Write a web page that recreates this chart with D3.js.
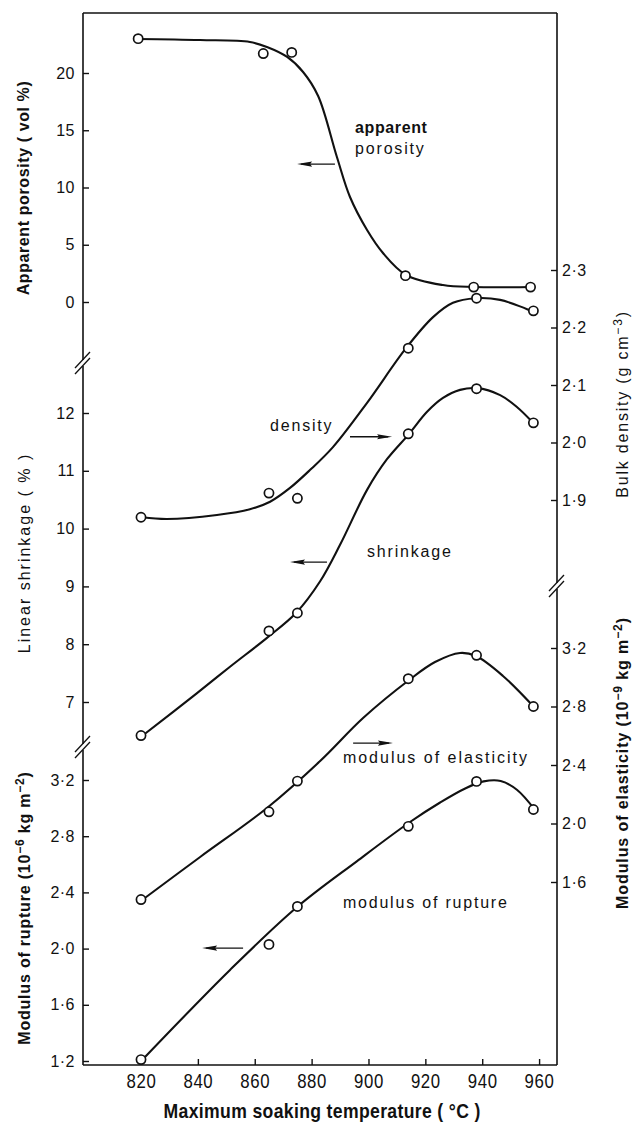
<!DOCTYPE html>
<html>
<head>
<meta charset="utf-8">
<script src="https://cdn.jsdelivr.net/npm/d3@7"></script>
<style>
  body { margin: 0; background: #fff; }
  text { fill: #111; }
</style>
</head>
<body>
<div id="chart"></div>
<script>
// ---- data ----
// measured points
const temps = [820, 865, 875, 914, 938, 958];
const porosityTemps = [819, 863, 873, 913, 937, 957];
const porosity = [23.0, 21.7, 21.8, 2.3, 1.3, 1.3];
const density = [1.870, 1.912, 1.903, 2.164, 2.251, 2.229];
const shrinkage = [6.42, 8.23, 8.54, 11.64, 12.42, 11.83];
const elasticity = [1.48, 2.08, 2.29, 2.99, 3.15, 2.80];
const rupture = [1.21, 2.03, 2.30, 2.87, 3.19, 2.99];

// hand-drawn fitted curves
const porosityFitT = [818.6, 840.8, 858.3, 864.3, 871.4, 877.0, 882.3, 888.9, 893.5, 899.5, 905.1, 913.2, 926.2, 937.1, 957.5];
const porosityFit = [22.97, 22.88, 22.71, 22.27, 21.40, 20.09, 17.99, 12.66, 9.17, 6.29, 4.28, 2.36, 1.48, 1.31, 1.31];
const densityFitT = [820.4, 829.1, 846.7, 858.3, 865.4, 872.4, 879.4, 887.5, 899.5, 913.2, 922.7, 929.7, 937.8, 946.3, 957.2];
const densityFit = [1.870, 1.867, 1.874, 1.884, 1.897, 1.921, 1.952, 1.992, 2.069, 2.164, 2.218, 2.243, 2.251, 2.248, 2.229];
const shrinkageFitT = [820.6, 839.6, 851.3, 864.3, 874.5, 883.0, 890.0, 899.5, 906.5, 914.3, 920.6, 926.2, 932.2, 938.2, 946.3, 952.3, 957.9];
const shrinkageFit = [6.42, 7.15, 7.61, 8.11, 8.54, 9.09, 9.72, 10.67, 11.20, 11.64, 12.02, 12.26, 12.40, 12.43, 12.31, 12.10, 11.83];
const elasticityFitT = [820.4, 840.8, 864.3, 883.0, 898.1, 914.3, 923.4, 932.2, 937.8, 947.3, 957.9];
const elasticityFit = [1.477, 1.771, 2.106, 2.427, 2.721, 2.981, 3.104, 3.166, 3.145, 3.009, 2.803];
const ruptureFitT = [820.4, 851.3, 874.9, 896.0, 914.6, 925.2, 934.0, 940.5, 946.5, 952.3, 958.6];
const ruptureFit = [1.207, 1.848, 2.296, 2.623, 2.901, 3.040, 3.140, 3.190, 3.193, 3.129, 2.986];

// tick values
const xTicks = [820, 840, 860, 880, 900, 920, 940, 960];
const porosityTicks = [0, 5, 10, 15, 20];
const shrinkageTicks = [7, 8, 9, 10, 11, 12];
const ruptureTicks = [1.2, 1.6, 2.0, 2.4, 2.8, 3.2];
const densityTicks = [1.9, 2.0, 2.1, 2.2, 2.3];
const elasticityTicks = [1.6, 2.0, 2.4, 2.8, 3.2];

// ---- layout ----
const W = 634, H = 1124;
const plotL = 83, plotR = 557, plotT = 13, plotB = 1065;
const FONT = "'Liberation Sans', Arial, sans-serif";

const svg = d3.select("#chart").append("svg")
    .attr("width", W)
    .attr("height", H);

const x = d3.scaleLinear().domain([799.6, 966.3]).range([plotL, plotR]);
const yPor = d3.scaleLinear().domain([0, 20]).range([302, 73]);
const yShr = d3.scaleLinear().domain([7, 12]).range([702, 413]);
const yRup = d3.scaleLinear().domain([1.2, 3.2]).range([1061, 780]);
const yDen = d3.scaleLinear().domain([1.9, 2.3]).range([500, 270]);
const yEla = d3.scaleLinear().domain([1.6, 3.2]).range([882, 648]);

const dot = d => d3.format(".1f")(d).replace(".", "\u00b7");

// ---- frame / axis lines with breaks ----
const frame = svg.append("g").attr("stroke", "#111").attr("stroke-width", 1.6).attr("fill", "none");
frame.append("line").attr("x1", plotL).attr("x2", plotR).attr("y1", plotT).attr("y2", plotT);
frame.append("line").attr("x1", plotL).attr("x2", plotR).attr("y1", plotB).attr("y2", plotB);
const leftBreaks = [363, 747];
const rightBreaks = [586];
function axisLine(xp, breaks) {
    const stops = [plotT].concat(...breaks.map(b => [b - 3, b + 3]), [plotB]);
    for (let i = 0; i < stops.length; i += 2) {
        frame.append("line").attr("x1", xp).attr("x2", xp).attr("y1", stops[i]).attr("y2", stops[i + 1]);
    }
    breaks.forEach(b => {
        [-3, 3].forEach(o => {
            frame.append("line")
                .attr("x1", xp - 8).attr("y1", b + o + 8)
                .attr("x2", xp + 7).attr("y2", b + o - 8)
                .attr("stroke-width", 1.3);
        });
    });
}
axisLine(plotL, leftBreaks);
axisLine(plotR, rightBreaks);

// ---- axes ----
function yAxis(scale, ticks, fmt, side) {
    const ax = (side === "left" ? d3.axisLeft(scale) : d3.axisRight(scale))
        .tickValues(ticks)
        .tickSizeInner(-6)
        .tickSizeOuter(0)
        .tickPadding(side === "left" ? 8 : 5)
        .tickFormat(fmt);
    const g = svg.append("g")
        .attr("transform", `translate(${side === "left" ? plotL : plotR},0)`)
        .call(ax);
    g.select(".domain").remove();
    g.selectAll(".tick line").attr("stroke", "#111").attr("stroke-width", 1.4);
    g.selectAll(".tick text")
        .attr("font-family", FONT)
        .attr("font-size", 16)
        .attr("letter-spacing", 0.5)
        .attr("fill", "#111");
}
yAxis(yPor, porosityTicks, d3.format("d"), "left");
yAxis(yShr, shrinkageTicks, d3.format("d"), "left");
yAxis(yRup, ruptureTicks, dot, "left");
yAxis(yDen, densityTicks, dot, "right");
yAxis(yEla, elasticityTicks, dot, "right");

const xAxis = svg.append("g")
    .attr("transform", `translate(0,${plotB})`)
    .call(d3.axisBottom(x).tickValues(xTicks).tickSizeInner(-6).tickSizeOuter(0).tickPadding(8).tickFormat(d3.format("d")));
xAxis.select(".domain").remove();
xAxis.selectAll(".tick line").attr("stroke", "#111").attr("stroke-width", 1.4);
xAxis.selectAll(".tick text")
    .attr("font-family", FONT)
    .attr("font-size", 21)
    .attr("letter-spacing", 0.8)
    .attr("transform", "scale(0.8,1)")
    .attr("fill", "#111");

// ---- curves and points ----
const series = [
    { t: porosityFitT, v: porosityFit, pt: porosityTemps, pv: porosity, y: yPor },
    { t: densityFitT, v: densityFit, pt: temps, pv: density, y: yDen },
    { t: shrinkageFitT, v: shrinkageFit, pt: temps, pv: shrinkage, y: yShr },
    { t: elasticityFitT, v: elasticityFit, pt: temps, pv: elasticity, y: yEla },
    { t: ruptureFitT, v: ruptureFit, pt: temps, pv: rupture, y: yRup }
];

series.forEach(s => {
    const line = d3.line()
        .x(d => x(d[0]))
        .y(d => s.y(d[1]))
        .curve(d3.curveCatmullRom.alpha(0.5));
    svg.append("path")
        .datum(d3.zip(s.t, s.v))
        .attr("d", line)
        .attr("fill", "none")
        .attr("stroke", "#111")
        .attr("stroke-width", 2.1);
});
series.forEach(s => {
    svg.append("g").selectAll("circle")
        .data(d3.zip(s.pt, s.pv))
        .join("circle")
        .attr("cx", d => x(d[0]))
        .attr("cy", d => s.y(d[1]))
        .attr("r", 4.6)
        .attr("fill", "#fff")
        .attr("stroke", "#111")
        .attr("stroke-width", 1.7);
});

// ---- arrows (which axis each curve belongs to) ----
function arrow(from, to, yv, scale) {
    const x1 = x(from), x2 = x(to), yy = scale(yv);
    const dir = x2 > x1 ? 1 : -1;
    const g = svg.append("g");
    g.append("line")
        .attr("x1", x1).attr("x2", x2 - dir * 4).attr("y1", yy).attr("y2", yy)
        .attr("stroke", "#111").attr("stroke-width", 1.3);
    g.append("path")
        .attr("d", `M${x2},${yy} L${x2 - dir * 15},${yy - 2.6} L${x2 - dir * 13},${yy} L${x2 - dir * 15},${yy + 2.6} Z`)
        .attr("fill", "#111");
}
arrow(888.2, 874.9, 12.05, yPor);
arrow(893.5, 908.3, 2.010, yDen);
arrow(885.4, 872.4, 9.42, yShr);
arrow(894.6, 908.6, 2.55, yEla);
arrow(855.9, 841.5, 2.004, yRup);

// ---- curve labels ----
function label(txt, t, yv, scale, weight, spacing) {
    svg.append("text")
        .attr("x", x(t))
        .attr("y", scale(yv))
        .attr("font-family", FONT)
        .attr("font-size", 16)
        .attr("font-weight", weight || "normal")
        .attr("letter-spacing", spacing)
        .text(txt);
}
label("apparent", 895.3, 14.76, yPor, "bold", 0.6);
label("porosity", 895.3, 12.93, yPor, "normal", 1.8);
label("density", 865.4, 2.020, yDen, "normal", 1.8);
label("shrinkage", 899.5, 9.51, yShr, "normal", 1.8);
label("modulus of elasticity", 891, 2.416, yEla, "normal", 2.0);
label("modulus of rupture", 891, 2.289, yRup, "normal", 1.8);

// ---- axis titles ----
function title(xp, yp, parts, weight, spacing) {
    const t = svg.append("text")
        .attr("transform", `translate(${xp},${yp}) rotate(-90)`)
        .attr("text-anchor", "middle")
        .attr("font-family", FONT)
        .attr("font-size", 16)
        .attr("font-weight", weight)
        .attr("letter-spacing", spacing);
    let shift = 0;
    parts.forEach(p => {
        if (typeof p === "string") {
            t.append("tspan").attr("dy", shift).text(p);
            shift = 0;
        } else {
            t.append("tspan").attr("dy", -6).attr("font-size", 12).text(p.sup);
            shift = 6;
        }
    });
}
title(29, 188, ["Apparent porosity ( vol %)"], "bold", 0.6);
title(30, 553, ["Linear shrinkage ( % )"], "normal", 2.0);
title(30, 908, ["Modulus of rupture (10", { sup: "\u22126" }, " kg m", { sup: "\u22122" }, ")"], "bold", 0.8);
title(628, 404, ["Bulk density (g cm", { sup: "\u22123" }, ")"], "normal", 1.8);
title(628, 763, ["Modulus of elasticity (10", { sup: "\u22129" }, " kg m", { sup: "\u22122" }, ")"], "bold", 0.9);

svg.append("text")
    .attr("transform", `translate(${x(883.7)},1118) scale(0.88,1)`)
    .attr("text-anchor", "middle")
    .attr("font-family", FONT)
    .attr("font-size", 20)
    .attr("font-weight", "bold")
    .attr("letter-spacing", 0.4)
    .text("Maximum soaking temperature ( \u00b0C )");
</script>
</body>
</html>
